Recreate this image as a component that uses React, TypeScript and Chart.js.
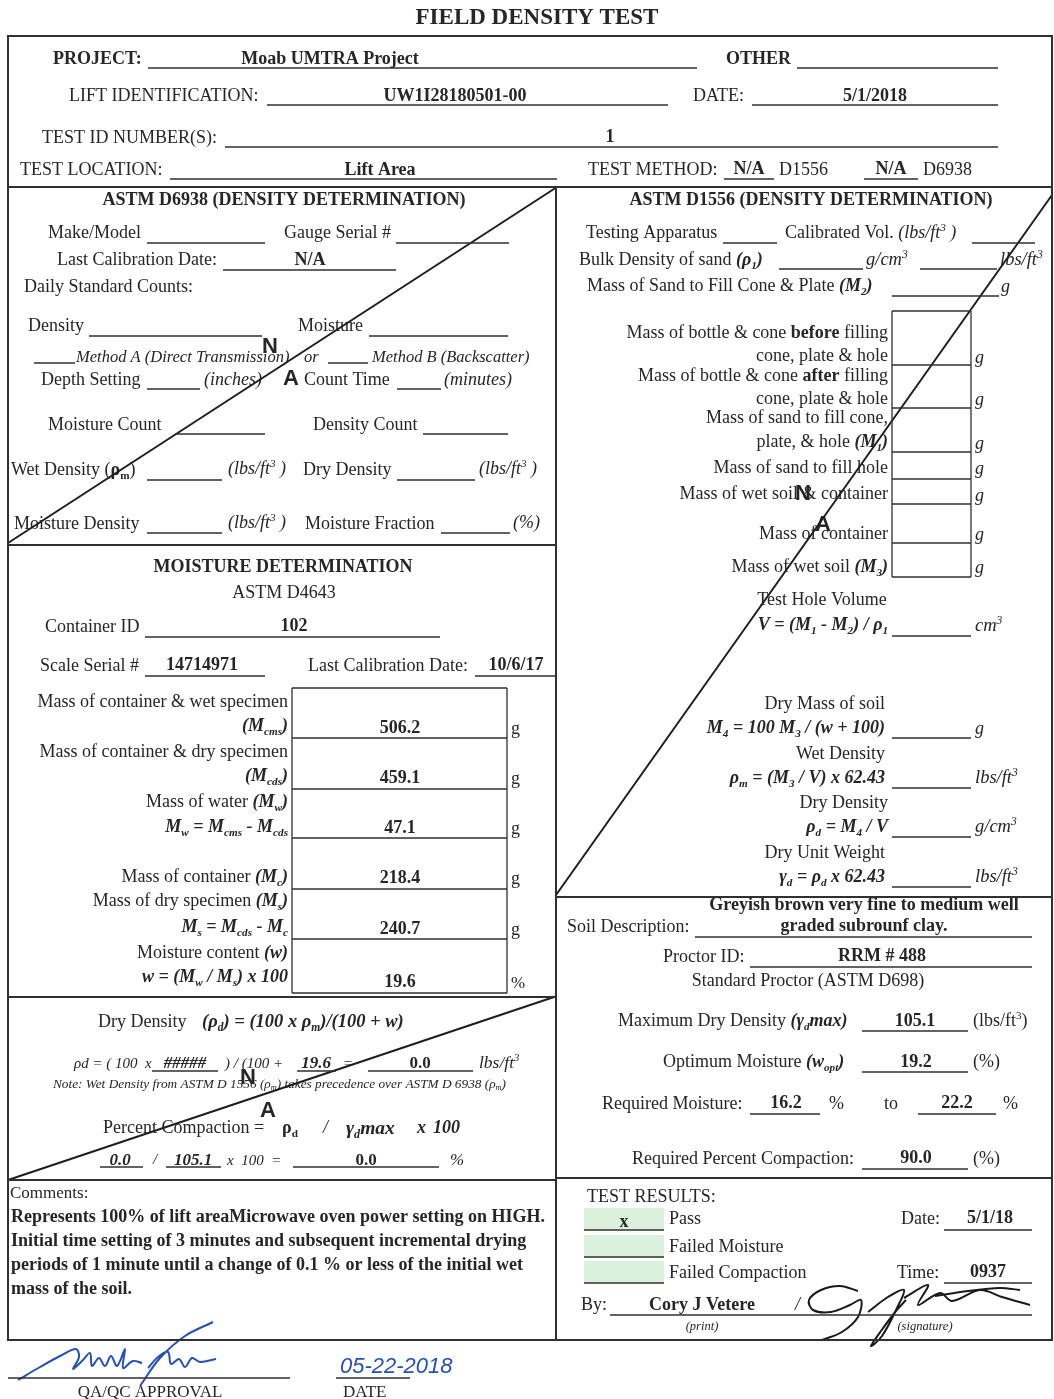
import { useEffect, useRef } from 'react';
import { Chart, registerables } from 'chart.js';

Chart.register(...registerables);

const W = 1054;
const H = 1399;

// ---------------- data (values read from the form) ----------------
const headerValues = ['Moab UMTRA Project', 'UW1I28180501-00', '5/1/2018', '1', 'Lift Area'];
const testMethodMarks = ['N/A', 'N/A'];
const gaugeCalibration = ['N/A'];
const containerInfo = ['102', '14714971', '10/6/17'];
const moistureMasses = [506.2, 459.1, 47.1, 218.4, 240.7];
const moistureContent = [19.6];
const dryDensityInputs = ['#####', '19.6', '0.0'];
const compactionInputs = [0.0, 105.1, 0.0];
const soilDescription = ['Greyish brown very fine to medium well', 'graded subrounf clay.'];
const proctorId = ['RRM # 488'];
const proctorValues = [105.1, 19.2];
const requiredMoisture = [16.2, 22.2];
const requiredCompaction = [90.0];
const resultMarks = ['x', '', ''];
const resultInfo = ['5/1/18', '0937', 'Cory J Vetere'];
const approvalDate = ['05-22-2018'];
const commentLines = [
  'Represents 100% of lift areaMicrowave oven power setting on HIGH.',
  'Initial time setting of 3 minutes and subsequent incremental drying',
  'periods of 1 minute until a change of 0.1 % or less of the initial wet',
  'mass of the soil.',
];

// ---------------- layout ----------------
const SERIF = "'Liberation Serif', 'Times New Roman', serif";
const SANS = "'Liberation Sans', Arial, sans-serif";
const INK = '#262626';
const LINE = '#303030';
const BLUE = '#2550b8';

const f1 = (v: number) => v.toFixed(1);
const b = (s: string | number) => '*' + s + '*';
const bi = (s: string | number) => '*~' + s + '~*';

type Seg = [number, number, number, number];

const thickSegs: Seg[] = [
  [8, 36, 1052, 36], [8, 36, 8, 1340], [1052, 36, 1052, 1340], [8, 1340, 1052, 1340],
  [8, 187, 1052, 187], [556, 187, 556, 1340],
  [8, 545, 556, 545], [8, 997, 556, 997], [8, 1180, 556, 1180],
  [556, 897, 1052, 897], [556, 1178, 1052, 1178],
];

const boxRowsRight = [311, 365, 408, 452, 479, 504, 543, 577];
const boxRowsMoist = [688, 738, 789, 838, 889, 939, 993];

const thinSegs: Seg[] = [
  // header
  [148, 68, 697, 68], [797, 68, 998, 68], [267, 105, 668, 105], [752, 105, 998, 105],
  [225, 147, 998, 147], [170, 179, 557, 179], [724, 179, 774, 179], [864, 179, 918, 179],
  // D6938
  [147, 243, 265, 243], [396, 243, 509, 243], [223, 270, 396, 270], [89, 336, 262, 336],
  [369, 336, 508, 336], [34, 363, 75, 363], [328, 363, 368, 363], [147, 389, 200, 389],
  [397, 389, 441, 389], [175, 434, 265, 434], [423, 434, 508, 434], [147, 480, 222, 480],
  [397, 480, 475, 480], [147, 533, 222, 533], [441, 533, 510, 533],
  // D1556
  [723, 243, 777, 243], [972, 243, 1035, 243], [779, 269, 863, 269], [920, 269, 997, 269],
  [892, 296, 999, 296],
  ...boxRowsRight.map((y) => [892, y, 971, y] as Seg),
  [892, 311, 892, 577], [971, 311, 971, 577],
  [892, 636, 971, 636], [892, 738, 971, 738], [892, 788, 971, 788], [892, 837, 971, 837], [892, 887, 971, 887],
  // moisture
  [145, 637, 440, 637], [145, 676, 265, 676], [475, 676, 557, 676],
  ...boxRowsMoist.map((y) => [292, y, 507, y] as Seg),
  [292, 688, 292, 993], [507, 688, 507, 993],
  // dry density
  [152, 1071, 218, 1071], [297, 1071, 336, 1071], [368, 1071, 473, 1071],
  [100, 1167, 143, 1167], [166, 1167, 221, 1167], [293, 1167, 439, 1167],
  // soil / proctor
  [695, 937, 1032, 937], [750, 967, 1032, 967], [862, 1031, 968, 1031], [862, 1072, 968, 1072],
  [750, 1114, 820, 1114], [918, 1114, 996, 1114], [862, 1169, 968, 1169],
  // results
  [584, 1230, 664, 1230], [584, 1257, 664, 1257], [584, 1283, 664, 1283],
  [944, 1230, 1032, 1230], [944, 1283, 1032, 1283], [610, 1315, 1032, 1315],
  // approval
  [8, 1378, 290, 1378], [336, 1378, 410, 1378],
];

const diagSegs: Seg[] = [
  [8, 543, 557, 187], [556, 895, 1052, 195], [8, 1180, 557, 996],
];

const blueStrokes: [number, number][][] = [
  [[18, 1380], [40, 1367], [62, 1355], [76, 1349], [79, 1357], [73, 1369], [83, 1360], [90, 1353], [92, 1366], [99, 1358], [105, 1366], [111, 1356], [117, 1366], [125, 1349], [123, 1368], [133, 1361], [142, 1363]],
  [[140, 1386], [160, 1358], [185, 1336], [213, 1322]],
  [[148, 1368], [158, 1357], [168, 1352], [171, 1364], [179, 1359], [185, 1367], [192, 1358], [200, 1362], [216, 1359]],
];

const blackStrokes: [number, number][][] = [
  [[858, 1291], [840, 1286], [821, 1290], [809, 1300], [813, 1310], [831, 1312], [850, 1305], [861, 1300], [858, 1317], [842, 1332], [822, 1340]],
  [[868, 1312], [888, 1297], [904, 1290], [896, 1310], [882, 1336], [871, 1346], [881, 1331], [896, 1311], [906, 1300]],
  [[904, 1298], [928, 1285], [918, 1305], [940, 1293], [952, 1301], [980, 1290], [1002, 1297], [1030, 1305]],
  [[935, 1296], [968, 1291], [1000, 1288], [1020, 1290]],
];

const greenBoxes: [number, number, number, number][] = [
  [584, 1208, 80, 22], [584, 1235, 80, 22], [584, 1261, 80, 22],
];

type TextItem = [number, number, string, number, string, string?];

const texts: TextItem[] = [
  // header
  [537, 16, b('FIELD DENSITY TEST'), 23, 'c'],
  [53, 58, b('PROJECT:'), 18, 'l'],
  [330, 58, b(headerValues[0]), 18, 'c'],
  [726, 58, b('OTHER'), 18, 'l'],
  [69, 95, 'LIFT IDENTIFICATION:', 18, 'l'],
  [455, 95, b(headerValues[1]), 18, 'c'],
  [693, 95, 'DATE:', 18, 'l'],
  [875, 95, b(headerValues[2]), 18, 'c'],
  [42, 137, 'TEST ID NUMBER(S):', 18, 'l'],
  [610, 136, b(headerValues[3]), 18, 'c'],
  [20, 169, 'TEST LOCATION:', 18, 'l'],
  [380, 169, b(headerValues[4]), 18, 'c'],
  [588, 169, 'TEST METHOD:', 18, 'l'],
  [749, 168, b(testMethodMarks[0]), 18, 'c'],
  [779, 169, 'D1556', 18, 'l'],
  [891, 168, b(testMethodMarks[1]), 18, 'c'],
  [923, 169, 'D6938', 18, 'l'],
  // D6938
  [284, 199, b('ASTM D6938 (DENSITY DETERMINATION)'), 18, 'c'],
  [48, 232, 'Make/Model', 18, 'l'],
  [284, 232, 'Gauge Serial #', 18, 'l'],
  [57, 259, 'Last Calibration Date:', 18, 'l'],
  [310, 259, b(gaugeCalibration[0]), 18, 'c'],
  [24, 286, 'Daily Standard Counts:', 18, 'l'],
  [28, 325, 'Density', 18, 'l'],
  [298, 325, 'Moisture', 18, 'l'],
  [76, 356, '~Method A (Direct Transmission)~', 16.5, 'l'],
  [304, 356, '~or~', 16.5, 'l'],
  [372, 356, '~Method B (Backscatter)~', 16.5, 'l'],
  [41, 379, 'Depth Setting', 18, 'l'],
  [204, 379, '~(inches)~', 18, 'l'],
  [304, 379, 'Count Time', 18, 'l'],
  [444, 379, '~(minutes)~', 18, 'l'],
  [48, 424, 'Moisture Count', 18, 'l'],
  [313, 424, 'Density Count', 18, 'l'],
  [11, 469, 'Wet Density (*ρ_{m}*)', 18, 'l'],
  [228, 468, '~(lbs/ft^{3} )~', 18, 'l'],
  [303, 469, 'Dry Density', 18, 'l'],
  [479, 468, '~(lbs/ft^{3} )~', 18, 'l'],
  [14, 523, 'Moisture Density', 18, 'l'],
  [228, 522, '~(lbs/ft^{3} )~', 18, 'l'],
  [305, 523, 'Moisture Fraction', 18, 'l'],
  [513, 522, '~(%)~', 18, 'l'],
  [270, 346, 'N', 22, 'c', 'sb'],
  [291, 378, 'A', 22, 'c', 'sb'],
  // D1556
  [811, 199, b('ASTM D1556 (DENSITY DETERMINATION)'), 18, 'c'],
  [586, 232, 'Testing Apparatus', 18, 'l'],
  [785, 232, 'Calibrated Vol. ~(lbs/ft^{3} )~', 18, 'l'],
  [579, 259, 'Bulk Density of sand ' + bi('(ρ_{1})'), 18, 'l'],
  [866, 259, '~g/cm^{3}~', 18.5, 'l'],
  [1000, 259, '~lbs/ft^{3}~', 18.5, 'l'],
  [587, 285, 'Mass of Sand to Fill Cone & Plate ' + bi('(M_{2})'), 18, 'l'],
  [1001, 286, '~g~', 18, 'l'],
  [888, 332, 'Mass of bottle & cone *before* filling', 18, 'r'],
  [888, 355, 'cone, plate & hole', 18, 'r'],
  [888, 375, 'Mass of bottle & cone *after* filling', 18, 'r'],
  [888, 398, 'cone, plate & hole', 18, 'r'],
  [888, 417, 'Mass of sand to fill cone,', 18, 'r'],
  [888, 441, 'plate, & hole ' + bi('(M_{1})'), 18, 'r'],
  [888, 467, 'Mass of sand to fill hole', 18, 'r'],
  [888, 493, 'Mass of wet soil & container', 18, 'r'],
  [888, 533, 'Mass of container', 18, 'r'],
  [888, 566, 'Mass of wet soil ' + bi('(M_{3})'), 18, 'r'],
  [975, 357, '~g~', 18, 'l'], [975, 399, '~g~', 18, 'l'], [975, 443, '~g~', 18, 'l'],
  [975, 468, '~g~', 18, 'l'], [975, 495, '~g~', 18, 'l'], [975, 534, '~g~', 18, 'l'],
  [975, 567, '~g~', 18, 'l'],
  [803, 493, 'N', 22, 'c', 'sb'],
  [823, 524, 'A', 22, 'c', 'sb'],
  [822, 599, 'Test Hole Volume', 18, 'c'],
  [888, 624, bi('V = (M_{1} - M_{2}) / ρ_{1}'), 18, 'r'],
  [975, 625, '~cm^{3}~', 18.5, 'l'],
  [885, 703, 'Dry Mass of soil', 18, 'r'],
  [885, 727, bi('M_{4} = 100 M_{3} / (w + 100)'), 18, 'r'],
  [975, 728, '~g~', 18, 'l'],
  [885, 753, 'Wet Density', 18, 'r'],
  [885, 777, bi('ρ_{m} = (M_{3} / V) x 62.43'), 18, 'r'],
  [975, 777, '~lbs/ft^{3}~', 18.5, 'l'],
  [888, 802, 'Dry Density', 18, 'r'],
  [888, 826, bi('ρ_{d} = M_{4} / V'), 18, 'r'],
  [975, 826, '~g/cm^{3}~', 18.5, 'l'],
  [885, 852, 'Dry Unit Weight', 18, 'r'],
  [885, 876, bi('γ_{d} = ρ_{d} x 62.43'), 18, 'r'],
  [975, 876, '~lbs/ft^{3}~', 18.5, 'l'],
  // soil / proctor
  [567, 926, 'Soil Description:', 18, 'l'],
  [864, 925, b(soilDescription[1]), 18, 'c'],
  [663, 956, 'Proctor ID:', 18, 'l'],
  [882, 955, b(proctorId[0]), 18, 'c'],
  [808, 980, 'Standard Proctor (ASTM D698)', 18, 'c'],
  [618, 1020, 'Maximum Dry Density ' + bi('(γ_{d}max)'), 18, 'l'],
  [915, 1020, b(f1(proctorValues[0])), 18, 'c'],
  [973, 1020, '(lbs/ft^{3})', 18, 'l'],
  [663, 1061, 'Optimum Moisture ' + bi('(w_{opt})'), 18, 'l'],
  [916, 1061, b(f1(proctorValues[1])), 18, 'c'],
  [973, 1061, '(%)', 18, 'l'],
  [602, 1103, 'Required Moisture:', 18, 'l'],
  [786, 1102, b(f1(requiredMoisture[0])), 18, 'c'],
  [829, 1103, '%', 18, 'l'],
  [884, 1103, 'to', 18, 'l'],
  [957, 1102, b(f1(requiredMoisture[1])), 18, 'c'],
  [1003, 1103, '%', 18, 'l'],
  [632, 1158, 'Required Percent Compaction:', 18, 'l'],
  [916, 1157, b(f1(requiredCompaction[0])), 18, 'c'],
  [973, 1158, '(%)', 18, 'l'],
  // moisture
  [283, 566, b('MOISTURE DETERMINATION'), 18, 'c'],
  [284, 592, 'ASTM D4643', 18, 'c'],
  [45, 626, 'Container ID', 18, 'l'],
  [294, 625, b(containerInfo[0]), 18, 'c'],
  [40, 665, 'Scale Serial #', 18, 'l'],
  [202, 664, b(containerInfo[1]), 18, 'c'],
  [308, 665, 'Last Calibration Date:', 18, 'l'],
  [516, 664, b(containerInfo[2]), 18, 'c'],
  [288, 701, 'Mass of container & wet specimen', 18, 'r'],
  [288, 725, bi('(M_{cms})'), 18, 'r'],
  [288, 751, 'Mass of container & dry specimen', 18, 'r'],
  [288, 775, bi('(M_{cds})'), 18, 'r'],
  [288, 801, 'Mass of water ' + bi('(M_{w})'), 18, 'r'],
  [288, 826, bi('M_{w} = M_{cms} - M_{cds}'), 18, 'r'],
  [288, 876, 'Mass of container ' + bi('(M_{c})'), 18, 'r'],
  [288, 900, 'Mass of dry specimen ' + bi('(M_{s})'), 18, 'r'],
  [288, 926, bi('M_{s} = M_{cds} - M_{c}'), 18, 'r'],
  [288, 952, 'Moisture content ' + bi('(w)'), 18, 'r'],
  [288, 976, bi('w = (M_{w} / M_{s}) x 100'), 18, 'r'],
  ...moistureMasses.map((v, k) => [400, [727, 777, 827, 877, 928][k], b(f1(v)), 18, 'c'] as TextItem),
  [400, 981, b(f1(moistureContent[0])), 18, 'c'],
  ...[728, 778, 828, 878, 929].map((y) => [511, y, 'g', 18, 'l'] as TextItem),
  [511, 982, '%', 17, 'l'],
  // dry density
  [98, 1021, 'Dry Density', 18, 'l'],
  [202, 1021, bi('(ρ_{d}) = (100 x ρ_{m})/(100 + w)'), 18.5, 'l'],
  [74, 1063, '~ρd = ( 100  x~', 15, 'l'],
  [185, 1062, bi(dryDensityInputs[0]), 17, 'c'],
  [225, 1063, '~) / (100 +~', 15, 'l'],
  [316, 1062, bi(dryDensityInputs[1]), 17, 'c'],
  [343, 1063, '~=~', 15, 'l'],
  [420, 1062, b(dryDensityInputs[2]), 17, 'c'],
  [479, 1062, '~lbs/ft^{3}~', 17.5, 'l'],
  [53, 1083, '~Note: Wet Density from ASTM D 1556 (ρ_{m}) takes precedence over ASTM D 6938 (ρ_{m})~', 13.3, 'l'],
  [248, 1077, 'N', 22, 'c', 'sb'],
  [268, 1110, 'A', 22, 'c', 'sb'],
  [103, 1127, 'Percent Compaction =', 18, 'l'],
  [282, 1127, '*ρ_{d}*', 18, 'l'],
  [323, 1127, '~/~', 18, 'l'],
  [346, 1127, bi('γ_{d}max'), 19.5, 'l'],
  [417, 1127, bi('x'), 18, 'l'],
  [433, 1127, bi('100'), 18, 'l'],
  [120, 1159, bi(f1(compactionInputs[0])), 17, 'c'],
  [153, 1159, '~/~', 15, 'l'],
  [193, 1159, bi(f1(compactionInputs[1])), 17, 'c'],
  [227, 1160, '~x  100  =~', 15, 'l'],
  [366, 1159, b(f1(compactionInputs[2])), 17, 'c'],
  [450, 1159, '~%~', 17, 'l'],
  // comments
  [10, 1192, 'Comments:', 17, 'l'],
  ...commentLines.map((s, k) => [11, 1216 + 24 * k, b(s), 18, 'l'] as TextItem),
  // results
  [587, 1196, 'TEST RESULTS:', 18, 'l'],
  [624, 1221, b(resultMarks[0]), 18, 'c'],
  [624, 1248, b(resultMarks[1]), 18, 'c'],
  [624, 1274, b(resultMarks[2]), 18, 'c'],
  [669, 1218, 'Pass', 18, 'l'],
  [669, 1246, 'Failed Moisture', 18, 'l'],
  [669, 1272, 'Failed Compaction', 18, 'l'],
  [901, 1218, 'Date:', 18, 'l'],
  [990, 1217, b(resultInfo[0]), 18, 'c'],
  [897, 1272, 'Time:', 18, 'l'],
  [988, 1271, b(resultInfo[1]), 18, 'c'],
  [581, 1304, 'By:', 18, 'l'],
  [702, 1304, b(resultInfo[2]), 18, 'c'],
  [795, 1304, '~/~', 18, 'l'],
  [702, 1326, '~(print)~', 12.5, 'c'],
  [925, 1326, '~(signature)~', 12.5, 'c'],
  // approval
  [150, 1391, 'QA/QC APPROVAL', 17, 'c'],
  [343, 1391, 'DATE', 17, 'l'],
  [340, 1366, '~' + approvalDate[0] + '~', 22, 'l', 'sB'],
];

// ---------------- rich text ----------------
type Run = { t: string; b: boolean; i: boolean; s: number };

function parseRich(src: string, bold0: boolean, ital0: boolean): Run[] {
  const runs: Run[] = [];
  let bo = bold0;
  let it = ital0;
  let buf = '';
  const push = () => {
    if (buf) runs.push({ t: buf, b: bo, i: it, s: 0 });
    buf = '';
  };
  let i = 0;
  while (i < src.length) {
    const c = src[i];
    if (c === '*') { push(); bo = !bo; i++; continue; }
    if (c === '~') { push(); it = !it; i++; continue; }
    if ((c === '_' || c === '^') && src[i + 1] === '{') {
      push();
      const end = src.indexOf('}', i + 2);
      runs.push({ t: src.slice(i + 2, end), b: bo, i: it, s: c === '_' ? 1 : -1 });
      i = end + 1;
      continue;
    }
    buf += c;
    i++;
  }
  push();
  return runs;
}

function drawRich(ctx: CanvasRenderingContext2D, px: number, py: number, str: string, size: number, align: string, flags = '') {
  const family = flags.includes('s') ? SANS : SERIF;
  const runs = parseRich(str, flags.includes('b'), flags.includes('i'));
  const font = (r: Run) => `${r.i ? 'italic ' : ''}${r.b ? 'bold ' : ''}${(r.s ? size * 0.62 : size).toFixed(1)}px ${family}`;
  let total = 0;
  const ws = runs.map((r) => {
    ctx.font = font(r);
    const w = ctx.measureText(r.t).width;
    total += w;
    return w;
  });
  let x = align === 'c' ? px - total / 2 : align === 'r' ? px - total : px;
  const base = py + size * 0.34;
  ctx.fillStyle = flags.includes('B') ? BLUE : INK;
  runs.forEach((r, k) => {
    ctx.font = font(r);
    ctx.fillText(r.t, x, base + (r.s === 1 ? size * 0.2 : r.s === -1 ? -size * 0.42 : 0));
    x += ws[k];
  });
}

const segData = (segs: Seg[]) => {
  const out: { x: number; y: number | null }[] = [];
  segs.forEach(([x1, y1, x2, y2]) => {
    out.push({ x: x1, y: y1 }, { x: x2, y: y2 }, { x: x2, y: null });
  });
  return out;
};
const strokeData = (strokes: [number, number][][]) => {
  const out: { x: number; y: number | null }[] = [];
  strokes.forEach((s) => {
    s.forEach(([x, y]) => out.push({ x, y }));
    out.push({ x: s[s.length - 1][0], y: null });
  });
  return out;
};

const formPlugin = {
  id: 'formText',
  beforeDatasetsDraw(chart: any) {
    const ctx: CanvasRenderingContext2D = chart.ctx;
    const sx = chart.scales.x;
    const sy = chart.scales.y;
    const X = (v: number) => sx.getPixelForValue(v);
    const Y = (v: number) => sy.getPixelForValue(v);
    ctx.save();
    ctx.fillStyle = '#ffffff';
    ctx.fillRect(0, 0, chart.width, chart.height);
    ctx.fillStyle = '#dcf1dc';
    greenBoxes.forEach(([x, y, w, h]) => {
      ctx.fillRect(X(x), Y(y), X(x + w) - X(x), Y(y + h) - Y(y));
    });
    ctx.textBaseline = 'alphabetic';
    ctx.textAlign = 'left';
    texts.forEach(([x, y, s, size, align, flags]) => {
      drawRich(ctx, X(x), Y(y), s, size, align, flags || '');
    });
    // soil description first line, clipped by the section rule above it
    ctx.save();
    ctx.beginPath();
    ctx.rect(X(557), Y(898), X(1052) - X(557), Y(930) - Y(898));
    ctx.clip();
    drawRich(ctx, X(864), Y(904), b(soilDescription[0]), 18, 'c');
    ctx.restore();
    ctx.restore();
  },
};

export default function App() {
  const ref = useRef<HTMLCanvasElement | null>(null);
  useEffect(() => {
    document.body.style.margin = '0';
    document.body.style.background = '#ffffff';
    if (!ref.current) return;
    const common = { showLine: true, pointRadius: 0, spanGaps: false, tension: 0 };
    const chart = new Chart(ref.current, {
      type: 'scatter',
      data: {
        datasets: [
          { ...common, label: 'borders', data: segData(thickSegs), borderColor: LINE, borderWidth: 2, borderCapStyle: 'square' },
          { ...common, label: 'rules', data: segData(thinSegs), borderColor: LINE, borderWidth: 1.3 },
          { ...common, label: 'void', data: segData(diagSegs), borderColor: '#1e1e1e', borderWidth: 2 },
          { ...common, label: 'qa', data: strokeData(blueStrokes), borderColor: BLUE, borderWidth: 2, tension: 0.35 },
          { ...common, label: 'sig', data: strokeData(blackStrokes), borderColor: '#1a1a1a', borderWidth: 2, tension: 0.35 },
        ] as any,
      },
      options: {
        responsive: false,
        animation: false,
        devicePixelRatio: 1,
        events: [],
        layout: { padding: 0 },
        plugins: { legend: { display: false }, tooltip: { enabled: false }, title: { display: false } },
        scales: {
          x: { type: 'linear', min: 0, max: W, display: false },
          y: { type: 'linear', min: 0, max: H, reverse: true, display: false },
        },
      },
      plugins: [formPlugin],
    });
    return () => chart.destroy();
  }, []);
  return (
    <div style={{ width: W, height: H }}>
      <canvas ref={ref} width={W} height={H} style={{ display: 'block', width: W, height: H }} />
    </div>
  );
}
